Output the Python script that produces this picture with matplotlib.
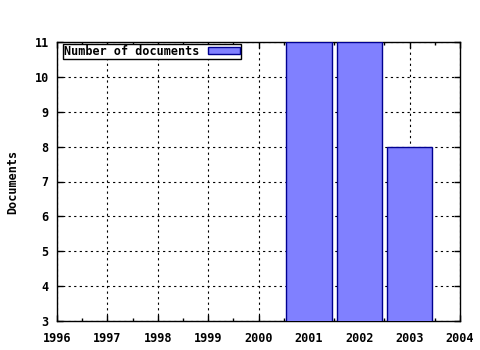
import matplotlib
matplotlib.use("Agg")
import matplotlib.pyplot as plt
from matplotlib.ticker import MultipleLocator

years = [2001, 2002, 2003]
documents = [11, 11, 8]
series_label = "Number of documents"

plt.rcParams['font.family'] = ['DejaVu Sans Mono']
plt.rcParams['font.weight'] = 'bold'
plt.rcParams['font.size'] = 8.5

fig = plt.figure(figsize=(4.8, 3.5), dpi=100)
ax = fig.add_axes([57/480, 1 - 321/350, (460-57)/480, (321-42)/350])

ax.bar(years, documents, width=0.9, color='#8080ff', edgecolor='#000090',
       linewidth=1, label=series_label, zorder=3)

ax.set_xlim(1996, 2004)
ax.set_ylim(3, 11)
ax.xaxis.set_major_locator(MultipleLocator(1))
ax.xaxis.set_minor_locator(MultipleLocator(0.5))
ax.yaxis.set_major_locator(MultipleLocator(1))
ax.tick_params(which='both', direction='in', top=True, right=True, length=4, width=1)
ax.tick_params(which='minor', length=2)
ax.tick_params(labelsize=8.5)
ax.tick_params(axis='x', pad=8)
ax.tick_params(axis='y', pad=6)
for lbl in ax.get_xticklabels() + ax.get_yticklabels():
    lbl.set_fontweight('bold')

ax.grid(True, which='major', color='black', linestyle=(0, (2, 3)), linewidth=0.8, zorder=0)
ax.set_axisbelow(True)
for s in ax.spines.values():
    s.set_linewidth(1)

ax.set_ylabel("Documents", fontweight='bold', labelpad=11)

# legend box sits a few pixels in from the left edge, just under the top
leg = ax.legend(loc='upper left', bbox_to_anchor=(6/403, 1 - 1.5/279),
                markerfirst=False, fancybox=False, framealpha=1,
                edgecolor='black', borderpad=0.1, handlelength=2.7, handleheight=0.45,
                handletextpad=0.7, borderaxespad=0, prop={'weight': 'bold', 'size': 8.5})
leg.get_frame().set_linewidth(1)

fig.savefig("out.png", dpi=100)
